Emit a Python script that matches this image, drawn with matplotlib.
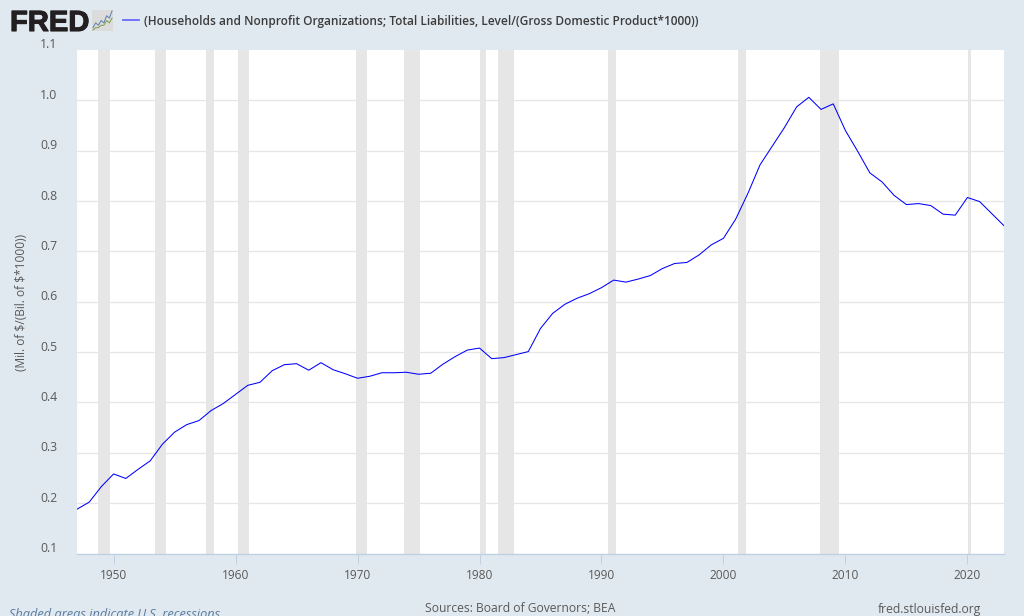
import matplotlib
matplotlib.use("Agg")
import matplotlib.pyplot as plt
import matplotlib.patheffects as pe
from matplotlib.transforms import ScaledTranslation

years = list(range(1947, 2024))
liabilities = [
    0.188, 0.202, 0.233, 0.258, 0.249, 0.267, 0.284, 0.317, 0.341, 0.356,
    0.364, 0.384, 0.398, 0.416, 0.434, 0.440, 0.463, 0.475, 0.477, 0.464,
    0.479, 0.465, 0.457, 0.448, 0.452, 0.459, 0.459, 0.460, 0.456, 0.458,
    0.476, 0.491, 0.504, 0.508, 0.487, 0.489, 0.495, 0.501, 0.547, 0.577,
    0.595, 0.607, 0.616, 0.628, 0.643, 0.639, 0.645, 0.652, 0.666, 0.676,
    0.678, 0.693, 0.713, 0.726, 0.764, 0.815, 0.872, 0.909, 0.946, 0.987,
    1.006, 0.982, 0.993, 0.940, 0.899, 0.856, 0.838, 0.811, 0.793, 0.795,
    0.791, 0.774, 0.772, 0.807, 0.799, 0.775, 0.751,
]
recession_start = [1948.75, 1953.4, 1957.6, 1960.2, 1969.9, 1973.85, 1980.0, 1981.5, 1990.5, 2001.2, 2007.9, 2020.05]
recession_end = [1949.72, 1954.27, 1958.25, 1961.1, 1970.75, 1975.15, 1980.5, 1982.8, 1991.2, 2001.85, 2009.45, 2020.3]
x_ticks = [1950, 1960, 1970, 1980, 1990, 2000, 2010, 2020]
y_ticks = [0.1, 0.2, 0.3, 0.4, 0.5, 0.6, 0.7, 0.8, 0.9, 1.0, 1.1]
icon_blue = [1, 3, 2, 4, 3, 6, 5, 8]
icon_green = [0, 1, 1, 2, 2, 4, 3, 5]

title = "(Households and Nonprofit Organizations; Total Liabilities, Level/(Gross Domestic Product*1000))"
y_label = "(Mil. of $/(Bil. of $*1000))"

W, H = 1024, 616
BG = "#e1e9f0"
TXT = "#595959"
plt.rcParams["font.family"] = ["Open Sans", "DejaVu Sans"]

fig = plt.figure(figsize=(W / 100, H / 100), dpi=100, facecolor=BG)


def px_axes(x0, y0, x1, y1):
    return fig.add_axes([x0 / W, 1 - y1 / H, (x1 - x0) / W, (y1 - y0) / H])


ax = px_axes(77, 50, 1004, 553.5)
ax.set_facecolor("white")
ax.set_xlim(1947, 2023)
ax.set_ylim(0.1, 1.1)
for s, e in zip(recession_start, recession_end):
    ax.axvspan(s, e, color="#e6e6e6", lw=0, zorder=1.5)
ax.yaxis.grid(True, color="#e6e6e6", lw=0.9, zorder=1)
ax.set_axisbelow(True)
ax.plot(years, liabilities, color="#0000ff", lw=0.75, zorder=3, solid_joinstyle="round")

for name in ("top", "right", "left"):
    ax.spines[name].set_visible(False)
ax.spines["bottom"].set_color("#c0d0e0")
ax.spines["bottom"].set_linewidth(1)

ax.set_xticks(x_ticks)
ax.set_xticklabels([str(t) for t in x_ticks])
ax.set_yticks(y_ticks)
ax.set_yticklabels([f"{t:.1f}" for t in y_ticks])
ax.yaxis.get_gridlines()[-1].set_visible(False)
ax.yaxis.get_gridlines()[0].set_visible(False)
ax.tick_params(axis="x", length=7.2, width=0.72, color="#c0d0e0", labelcolor=TXT, labelsize=8.6, pad=4)
ax.tick_params(axis="y", length=0, labelcolor=TXT, labelsize=8.8, pad=14)
shift = ScaledTranslation(0, 6.5 / 100, fig.dpi_scale_trans)
for lab in ax.get_yticklabels():
    lab.set_transform(lab.get_transform() + shift)

fig.text(21.5 / W, 1 - 302 / H, y_label, rotation=90, ha="center", va="center",
         color=TXT, fontsize=8.55, parse_math=False)

# header
fig.text(10 / W, 1 - 31 / H, "FRED", family="Liberation Sans", weight="bold", fontsize=21,
         color="#231f20", ha="left", va="baseline",
         path_effects=[pe.withStroke(linewidth=0.8, foreground="#231f20")])
icon = px_axes(92, 10, 113, 31)
icon.set_facecolor("#dcdcdc")
icon.plot(range(len(icon_blue)), icon_blue, color="#5b7fa8", lw=0.7)
icon.plot(range(len(icon_green)), icon_green, color="#7f9a4a", lw=0.7)
icon.set_xticks([])
icon.set_yticks([])
for sp in icon.spines.values():
    sp.set_visible(False)
fig.add_artist(plt.Line2D([123 / W, 139 / W], [1 - 20 / H, 1 - 20 / H], color="#6a6aff", lw=1.3))
fig.text(144 / W, 1 - 21 / H, title, fontsize=8.55, weight="semibold", color="#3c3c3c",
         ha="left", va="center", parse_math=False)

# footer
fig.text(9 / W, 1 - 618 / H, "Shaded areas indicate U.S. recessions", style="italic",
         fontsize=9.2, color="#5a7ba0", ha="left", va="baseline")
fig.text(425 / W, 1 - 612.5 / H, "Sources: Board of Governors; BEA", fontsize=8.75, color=TXT,
         ha="left", va="baseline")
fig.text(981 / W, 1 - 612.5 / H, "fred.stlouisfed.org", fontsize=8.7, color=TXT,
         ha="right", va="baseline")

fig.savefig("out.png", dpi=100, facecolor=BG)
